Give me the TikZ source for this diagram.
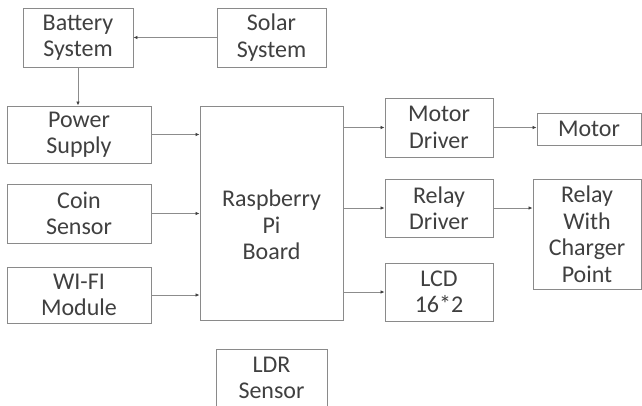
\documentclass[tikz,border=0pt]{standalone}
\usepackage{fontspec}
\setmainfont{Carlito}
\usetikzlibrary{arrows.meta}
\definecolor{boxc}{HTML}{8A8A8A}
\definecolor{txtc}{HTML}{404040}
\definecolor{linec}{HTML}{8C8C8C}
\begin{document}
\begin{tikzpicture}[x=1pt,y=-1pt,
 txt/.style={align=center, font=\fontsize{24}{26.5}\selectfont, text=txtc, inner sep=0pt},
 blk/.style={draw=boxc, line width=0.9pt, txt},
 conn/.style={draw=linec, line width=0.8pt, -{Latex[length=4pt,width=3.5pt,color=txtc]}}]
\useasboundingbox (0,0) rectangle (642,405);
\fill[white] (0,0) rectangle (642,405);
\clip (0,0) rectangle (642,405);
\node[blk, minimum width=110, minimum height=59] (bat) at (78,37.5) {Battery\\System};
\node[blk, minimum width=109, minimum height=59] (sol) at (271.5,37.5) {Solar\\System};
\node[blk, minimum width=144, minimum height=57] (ps) at (79,134.5) {Power\\Supply};
\node[blk, minimum width=144, minimum height=59] (coin) at (79,213.5) {Coin\\Sensor};
\node[blk, minimum width=144, minimum height=56] (wifi) at (79,295) {WI-FI\\Module};
\node[blk, minimum width=143, minimum height=214,
  label={[txt, yshift=-12pt]center:Raspberry\\Pi\\Board}] (rpi) at (271.5,213) {};
\node[blk, minimum width=108, minimum height=59] (md) at (439,127.5) {Motor\\Driver};
\node[blk, minimum width=104, minimum height=32] (motor) at (589,129) {Motor};
\node[blk, minimum width=108, minimum height=58] (rd) at (439,208) {Relay\\Driver};
\node[blk, minimum width=108, minimum height=110] (rcp) at (587,234) {Relay\\With\\Charger\\Point};
\node[blk, minimum width=108, minimum height=58] (lcd) at (439,292) {LCD\\16*2};
\node[blk, minimum width=111, minimum height=58] (ldr) at (271.5,378) {LDR\\Sensor};
\draw[conn] (sol.west) -- (bat.east);
\draw[conn] (bat.south) -- (bat.south |- ps.north);
\draw[conn] (ps.east) -- (ps.east -| rpi.west);
\draw[conn] (coin.east) -- (coin.east -| rpi.west);
\draw[conn] (wifi.east) -- (wifi.east -| rpi.west);
\draw[conn] (rpi.east |- md.west) -- (md.west);
\draw[conn] (rpi.east |- rd.west) -- (rd.west);
\draw[conn] (rpi.east |- lcd.west) -- (lcd.west);
\draw[conn] (md.east) -- (md.east -| motor.west);
\draw[conn] (rd.east) -- (rd.east -| rcp.west);
\end{tikzpicture}
\end{document}
